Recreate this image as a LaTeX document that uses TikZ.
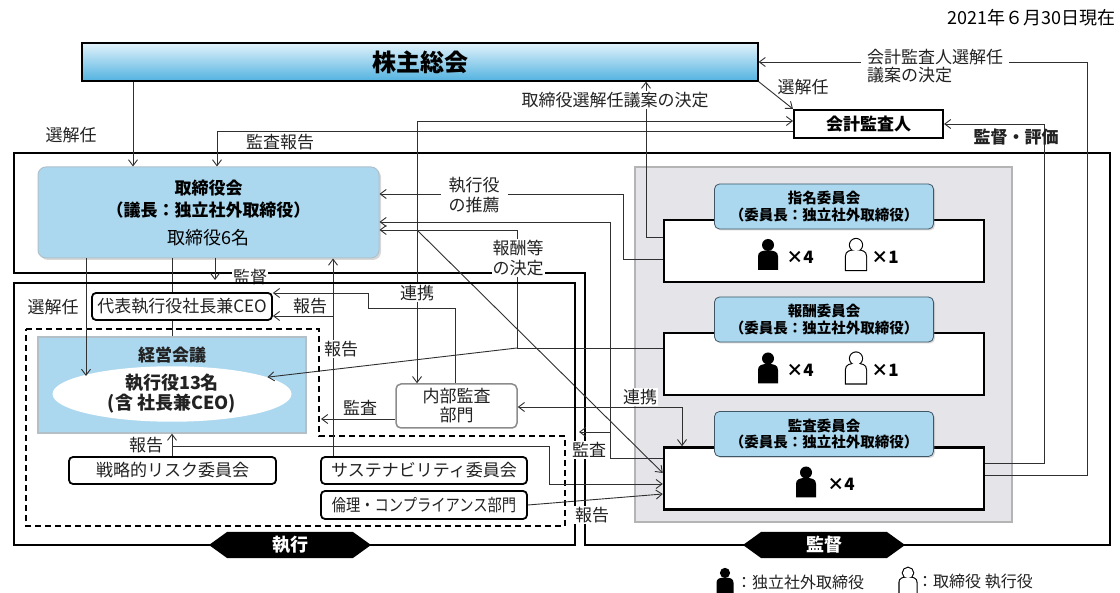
\documentclass[tikz,border=0pt]{standalone}
\usepackage{fontspec}
\setmainfont{Noto Sans CJK JP}
\usetikzlibrary{arrows.meta,shapes.geometric,shadows}

\definecolor{skyblue}{HTML}{ABD8EF}
\definecolor{gradtop}{HTML}{E2F3FB}
\definecolor{gradbot}{HTML}{52B2E0}
\definecolor{headline}{HTML}{3E5666}
\definecolor{areagray}{HTML}{E5E5E9}
\definecolor{areaedge}{HTML}{B4B4B4}
\definecolor{linegray}{HTML}{303030}
\definecolor{txtgray}{HTML}{222222}

% person icons: x, y, scale
\newcommand{\fullfig}[3]{%
  \begin{scope}[shift={(#1,#2)},scale=#3]
    \fill[black] (0,-9.5) circle[radius=6pt];
    \fill[black] (-10,15.5) -- (-10,2) .. controls (-10,-3) and (-6,-4) .. (0,-4)
      .. controls (6,-4) and (10,-3) .. (10,2) -- (10,15.5) -- cycle;
  \end{scope}}
\newcommand{\openfig}[3]{%
  \begin{scope}[shift={(#1,#2)},scale=#3,line width=2.2pt]
    \draw (0,-9.5) circle[radius=6pt];
    \draw (-10,15.5) -- (-10,2) .. controls (-10,-3) and (-6,-4) .. (0,-4)
      .. controls (6,-4) and (10,-3) .. (10,2) -- (10,15.5) -- cycle;
    \fill[white] (0,-9.5) circle[radius=6pt];
    \fill[white] (-10,15.5) -- (-10,2) .. controls (-10,-3) and (-6,-4) .. (0,-4)
      .. controls (6,-4) and (10,-3) .. (10,2) -- (10,15.5) -- cycle;
  \end{scope}}

\begin{document}
\begin{tikzpicture}[x=1pt,y=-1pt]
    \tikzstyle{conn}=[draw=linegray,line width=0.9pt]
    \tikzstyle{arr}=[conn,-{Straight Barb[length=6pt,width=9pt]}]
    \tikzstyle{arrboth}=[conn,{Straight Barb[length=6pt,width=9pt]}-{Straight Barb[length=6pt,width=9pt]}]
    \tikzstyle{lbl}=[font=\fontsize{17}{20}\selectfont,text=txtgray,inner sep=1pt]
    \tikzstyle{lblw}=[lbl,fill=white]
    \tikzstyle{thickframe}=[draw=black,line width=2.5pt]
    \tikzstyle{whitebox}=[draw=black,line width=1.8pt,fill=white,rounded corners=4pt,inner sep=0pt,font=\fontsize{17}{20}\selectfont,text=txtgray]
    \tikzstyle{commbox}=[draw=black,line width=2.5pt,fill=white,inner sep=0pt,minimum width=320pt,minimum height=62pt]
    \tikzstyle{commhead}=[draw=headline,line width=0.8pt,fill=skyblue,rounded corners=5pt,inner sep=0pt,minimum width=219pt,minimum height=45pt,align=center,font=\bfseries\fontsize{14.5}{16.5}\selectfont,drop shadow={opacity=0.3,shadow xshift=1.5pt,shadow yshift=-1.5pt}]
    \tikzstyle{tally}=[font=\bfseries\fontsize{17}{20}\selectfont,inner sep=0pt]
    \tikzstyle{badge}=[text=white,font=\bfseries\fontsize{18}{20}\selectfont,inner sep=0pt]

    \fill[white] (0,0) rectangle (1120,593);
    \useasboundingbox (0,0) rectangle (1120,593);

    \node[lbl,anchor=east,text=black,font=\fontsize{18}{20}\selectfont] (dateNote) at (1117,18) {2021年６月30日現在};

    % supervision frame and committee area
    \draw[thickframe] (14,153) -- (1110,153) -- (1110,545) -- (585,545) -- (585,273) -- (14,273) -- cycle;
    \draw[draw=areaedge,fill=areagray,line width=2pt] (635,167) rectangle (1012,522);

    \node[draw=black,line width=1.2pt,top color=gradtop,bottom color=gradbot,minimum width=676pt,minimum height=38pt,font=\bfseries\fontsize{24}{28}\selectfont] (soukai) at (420,62) {株主総会};
    \node[draw=black,line width=2pt,fill=white,minimum width=149pt,minimum height=28pt,inner sep=0pt,font=\bfseries\fontsize{17}{20}\selectfont] (kaikei) at (868.5,124) {会計監査人};
    \node[draw=skyblue!70!black!60,line width=1pt,fill=skyblue,rounded corners=8pt,minimum width=341pt,minimum height=91pt,align=center,font=\fontsize{17}{22}\selectfont,drop shadow={opacity=0.3,shadow xshift=2pt,shadow yshift=-2pt}] (torishimari) at (208.5,212.5)
        {\textbf{取締役会}\\\textbf{（議長：独立社外取締役）}\\[6pt]{\fontsize{18}{20}\selectfont 取締役6名}};

    \foreach \nm/\y/\ttl in {shimei/251/指名委員会, hoshu/364/報酬委員会, kansa/478.5/監査委員会} {
        \node[commbox] (\nm Box) at (824,\y) {};
        \node[commhead] (\nm Head) at (824,\y-44.5) {\ttl\\（委員長：独立社外取締役）};
    }
    \foreach \nm/\y in {shimei/254.5, hoshu/368} {
        \fullfig{768}{\y}{1}
        \node[tally] (\nm Four) at (800,\y+2.5) {×4};
        \openfig{856}{\y}{1}
        \node[tally] (\nm One) at (885,\y+2.5) {×1};
    }
    \fullfig{806}{482}{1}
    \node[tally] (kansaFour) at (841,484) {×4};

    % execution side
    \node[whitebox,minimum width=180pt,minimum height=27pt,font=\fontsize{17}{20}\selectfont] (daihyo) at (182,306.5) {代表執行役社長兼CEO};
    \draw[dashed,dash pattern=on 6pt off 4pt,line width=1.5pt] (26,329) -- (319,329) -- (319,436) -- (565,436) -- (565,526) -- (26,526) -- cycle;
    \node[draw=skyblue!60!black!50,line width=1.2pt,fill=skyblue,minimum width=268pt,minimum height=96pt] (keiei) at (172,385) {};
    \node[font=\bfseries\fontsize{17}{20}\selectfont,text=txtgray] (keieiTitle) at (172,355) {経営会議};
    \node[ellipse,fill=white,minimum width=239pt,minimum height=49pt,inner sep=0pt,align=center,font=\bfseries\fontsize{18}{20}\selectfont,text=txtgray] (kaigiEll) at (172,394) {執行役13名\\(含 社長兼CEO)};
    \node[draw=black!45,line width=1.5pt,fill=white,rounded corners=5pt,minimum width=121pt,minimum height=44pt,inner sep=0pt,align=center,font=\fontsize{17}{19}\selectfont,text=txtgray] (naibu) at (456.5,406) {内部監査\\部門};
    \node[whitebox,minimum width=207pt,minimum height=27pt] (senryaku) at (172.5,470.5) {戦略的リスク委員会};
    \node[whitebox,minimum width=206pt,minimum height=27pt] (sustain) at (424,470.5) {サステナビリティ委員会};
    \node[whitebox,minimum width=206pt,minimum height=28pt] (rinri) at (424,505) {\scalebox{0.84}[1]{倫理・コンプライアンス部門}};

    % junctions and free ends
    \coordinate (kantokuTip) at (215,280);
    \coordinate (senninTip) at (86,376);
    \coordinate (hoshuJ) at (517,348);
    \coordinate (diagJ) at (417,230);
    \coordinate (kansaJ) at (610,432);
    \coordinate (execEdge) at (579,432);
    \coordinate (dashEdge) at (321,419);
    \coordinate (susJ) at (333,316);
    \coordinate (senJ) at (172,446);

    \draw[arr] (soukai.south -| 133,0) -- (torishimari.north -| 133,0);
    \draw[arr] (kaikei.west |- 0,131) -| (torishimari.north -| 217,0);
    \draw[arr] (soukai.south east) -- (kaikei.north west);
    \draw[arr] (kansaBox.east |- 0,475) -| (1087,62) -- (soukai.east);
    \draw[arr] (kansaBox.east |- 0,463) -| (1044,124) -- (kaikei.east);
    \draw[arrboth] (kaikei.west |- 0,121) -| (naibu.north -| 417,0);
    \draw[arr] (shimeiBox.west |- 0,237) -| (soukai.south -| 646,0);
    \draw[arr] (shimeiBox.west |- 0,259) -| (623,194) -- (torishimari.east |- 0,194);
    \draw[arr] (kansaBox.west |- 0,458) -| (610,222) -- (torishimari.east |- 0,222);
    \draw[arr] (kansaJ) -- (execEdge);
    \draw[conn] (hoshuBox.west |- hoshuJ) -- (hoshuJ);
    \draw[arr] (hoshuJ) |- (torishimari.east |- 0,230);
    \draw[arr] (hoshuJ) -- (kaigiEll.10);
    \draw[arr] (diagJ) -- (kansaBox.west |- 0,473);
    \draw[arrboth] (naibu.east |- 0,407) -| (kansaBox.north -| 682,0);
    \draw[arr] (naibu.north -| 455,0) |- (368,308) |- (daihyo.east |- 0,293);
    \draw[arr] (naibu.west |- 0,419) -- (dashEdge);
    \draw[arr] (sustain.north -| susJ) -- (torishimari.south -| susJ);
    \draw[arr] (susJ) -- (daihyo.east |- susJ);
    \draw[arr] (senryaku.north -| senJ) -- (keiei.south -| senJ);
    \draw[arr] (senJ) -| (549,484) -- (kansaBox.west |- 0,484);
    \draw[arr] (rinri.east) -- (kansaBox.west |- 0,494);
    \draw[arr] (torishimari.south -| senninTip) -- (senninTip);
    \draw[conn] (torishimari.south -| 172,0) -- (daihyo.north -| 172,0);
    \draw[conn] (daihyo.south -| 172,0) -- (keiei.north -| 172,0);
    \draw[arr] (torishimari.south -| kantokuTip) -- (kantokuTip);

    % labels on the supervision frame
    \node[lblw,anchor=base,text depth=0pt,inner ysep=0pt] (kantokuLbl) at (250,284) {監督};
    \node[lblw,align=center,font=\fontsize{17}{20}\selectfont] (hoshuLbl) at (518,258) {報酬等\\の決定};

    % execution frame
    \draw[thickframe] (14,283) rectangle (575,545);

    \node[lbl] (senninA) at (71,135) {選解任};
    \node[lbl] (kansaRep) at (280,142) {監査報告};
    \node[lbl] (senninB) at (803,87) {選解任};
    \node[lblw,align=left,anchor=west,inner xsep=6pt,font=\fontsize{17}{18.5}\selectfont] (gianLbl) at (861,66) {会計監査人選解任\\議案の決定};
    \node[lblw] (torigian) at (615,100) {取締役選解任議案の決定};
    \node[lbl,font=\bfseries\fontsize{17}{20}\selectfont] (hyoka) at (1016,137) {監督・評価};
    \node[lblw,align=center,inner xsep=8pt] (suisen) at (474,195) {執行役\\の推薦};
    \node[lblw] (renkeiA) at (417,293) {連携};
    \node[lblw] (renkeiB) at (640,397) {連携};
    \node[lblw] (kansaC) at (589,450) {監査};
    \node[lblw] (hokokuE) at (592,515) {報告};
    \node[lbl] (hokokuA) at (310,306) {報告};
    \node[lblw] (hokokuB) at (341,349) {報告};
    \node[lbl] (kansaD) at (360,408) {監査};
    \node[lbl] (hokokuC) at (146,445) {報告};
    \node[lbl] (senninC) at (53,307) {選解任};

    % frame tags
    \foreach \cx/\txt/\nm in {290/執行/shikko, 824/監督/kantoku} {
        \fill[black] (\cx-81,545) -- (\cx-63,532) -- (\cx+63,532) -- (\cx+81,545) -- (\cx+63,558) -- (\cx-63,558) -- cycle;
        \node[badge] (\nm Tag) at (\cx,545) {\txt};
    }

    % legend
    \fullfig{725}{581}{0.85}
    \node[lbl,anchor=west,font=\fontsize{16}{18}\selectfont] (legendA) at (735,582) {：独立社外取締役};
    \openfig{908}{581}{0.85}
    \node[lbl,anchor=west,font=\fontsize{16}{18}\selectfont] (legendB) at (916,582) {：取締役 執行役};
\end{tikzpicture}
\end{document}
